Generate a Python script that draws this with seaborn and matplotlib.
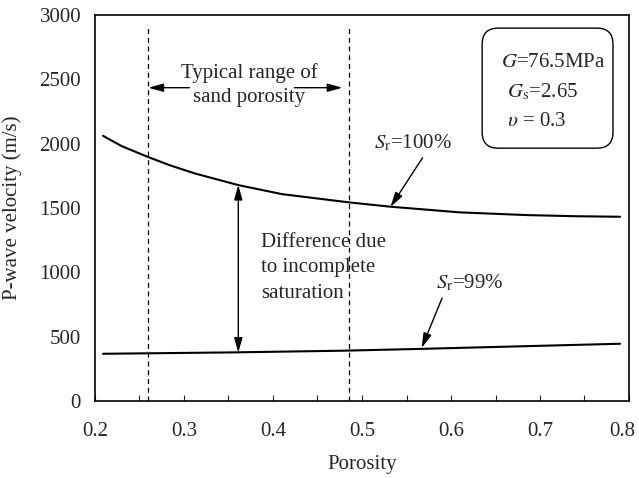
import matplotlib
matplotlib.use("Agg")
import matplotlib.pyplot as plt
import seaborn as sns
import pandas as pd
from matplotlib.patches import FancyBboxPatch

# ---- data ----
por_100 = [0.209, 0.230, 0.259, 0.285, 0.312, 0.361, 0.410, 0.485, 0.532, 0.610, 0.685, 0.740, 0.790]
vel_100 = [2061, 1981, 1898, 1830, 1769, 1678, 1608, 1544, 1510, 1466, 1445, 1436, 1432]
por_99 = [0.209, 0.357, 0.479, 0.560, 0.790]
vel_99 = [367, 378, 391, 404, 445]
range_lines = [0.26, 0.485]
x_ticks = [0.2, 0.3, 0.4, 0.5, 0.6, 0.7, 0.8]
x_labels = ["0.2", "0.3", "0.4", "0.5", "0.6", "0.7", "0.8"]
y_ticks = [0, 500, 1000, 1500, 2000, 2500, 3000]

df = pd.concat([
    pd.DataFrame({"Porosity": por_100, "Vp": vel_100, "Sr": "100%"}),
    pd.DataFrame({"Porosity": por_99, "Vp": vel_99, "Sr": "99%"}),
])

sns.set_style("ticks")
plt.rcParams["font.family"] = ["Liberation Serif", "DejaVu Serif"]
plt.rcParams["mathtext.fontset"] = "stix"
FS = 15

fig = plt.figure(figsize=(6.39, 4.78), dpi=100)
ax = fig.add_axes([95 / 639, 77 / 478, 534 / 639, 386 / 478])

sns.lineplot(data=df, x="Porosity", y="Vp", units="Sr", estimator=None,
             color="black", lw=1.5, ax=ax, legend=False, sort=True)

ax.set_xlim(0.2, 0.8)
ax.set_ylim(0, 3000)
ax.set_xticks(x_ticks)
# last label is drawn separately, nudged left so it stays on the canvas
ax.set_xticklabels(x_labels[:-1] + [""], fontsize=FS)
ax.annotate(x_labels[-1], xy=(x_ticks[-1], 0), xycoords="data",
            xytext=(-5, -15), textcoords="offset points",
            ha="center", va="top", fontsize=FS, annotation_clip=False)
ax.set_yticks(y_ticks)
ax.set_yticklabels([str(t) for t in y_ticks], fontsize=FS)
ax.set_xticks([0.25, 0.35, 0.45, 0.55, 0.65, 0.75], minor=True)
ax.tick_params(axis="x", which="both", direction="in", length=4, width=0.8, pad=15)
ax.tick_params(axis="y", which="both", length=0, pad=10)
for s in ax.spines.values():
    s.set_linewidth(1.2)
    s.set_color("black")

ax.set_xlabel("Porosity", fontsize=FS)
ax.set_ylabel("P-wave velocity (m/s)", fontsize=FS)
ax.xaxis.set_label_coords(0.5, -0.14)
ax.yaxis.set_label_coords(-0.137, 0.5)

# dashed range lines
ax.vlines(range_lines, 0, 2900, colors="black", lw=0.9, linestyles=(0, (4, 3)))

arrow_kw = dict(arrowstyle="-|>,head_length=0.9,head_width=0.25", color="black",
                lw=1.0, shrinkA=0, shrinkB=0)

# typical range
ax.text(0.373, 2549, "Typical range of", ha="center", va="center", fontsize=FS)
ax.text(0.373, 2355, "sand porosity", ha="center", va="center", fontsize=FS)
ax.annotate("", xy=(0.26, 2435), xytext=(0.306, 2435), arrowprops=arrow_kw)
ax.annotate("", xy=(0.478, 2435), xytext=(0.424, 2435), arrowprops=arrow_kw)

# difference arrow
ax.annotate("", xy=(0.361, 1680), xytext=(0.361, 375),
            arrowprops=dict(arrowstyle="<|-|>,head_length=0.9,head_width=0.25",
                            color="black", lw=1.0, shrinkA=0, shrinkB=0))
ax.text(0.387, 1228, "Difference due", ha="left", va="center", fontsize=FS)
ax.text(0.387, 1034, "to incomplete", ha="left", va="center", fontsize=FS)
ax.text(0.387, 839, "saturation", ha="left", va="center", fontsize=FS)

# curve labels
ax.text(0.514, 2005, r"$S_\mathrm{r}$=100%", ha="left", va="center", fontsize=FS)
ax.annotate("", xy=(0.532, 1508), xytext=(0.568, 1890), arrowprops=arrow_kw)
ax.text(0.583, 917, r"$S_\mathrm{r}$=99%", ha="left", va="center", fontsize=FS)
ax.annotate("", xy=(0.567, 412), xytext=(0.59, 800), arrowprops=arrow_kw)

# parameter box
box = FancyBboxPatch((0.725, 0.655), 0.245, 0.311,
                     boxstyle="round,pad=0,rounding_size=0.03",
                     mutation_aspect=534 / 386, transform=ax.transAxes,
                     fc="white", ec="black", lw=1.0, zorder=3)
ax.add_patch(box)
ax.text(0.656, 2627, r"$G$=76.5MPa", ha="left", va="center", fontsize=FS, zorder=4)
ax.text(0.663, 2402, r"$G_\mathrm{s}$=2.65", ha="left", va="center", fontsize=FS, zorder=4)
ax.text(0.663, 2176, r"$\upsilon$ = 0.3", ha="left", va="center", fontsize=FS, zorder=4)

fig.savefig("out.png", dpi=100)
